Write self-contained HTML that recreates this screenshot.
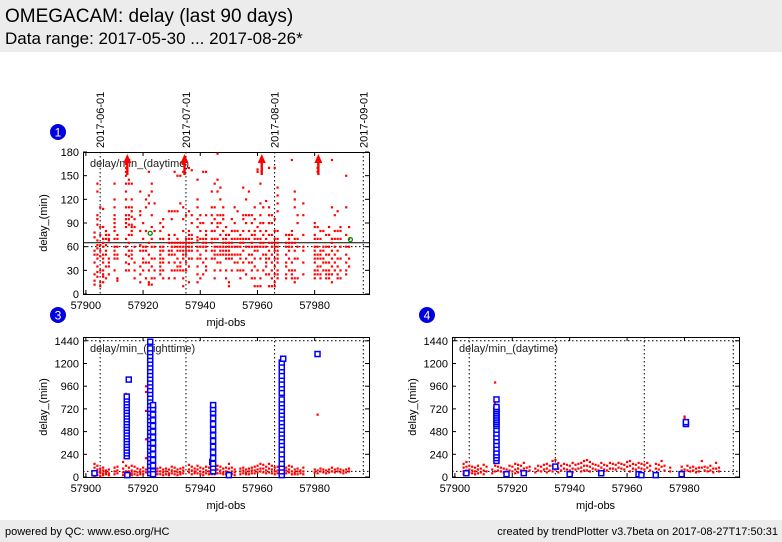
<!DOCTYPE html>
<html><head><meta charset="utf-8">
<style>
body{margin:0;width:782px;height:542px;background:#fff;font-family:"Liberation Sans","DejaVu Sans",sans-serif;overflow:hidden;position:relative}
#hdr{position:absolute;left:0;top:0;width:782px;height:52px;background:#ececec}
#t1{position:absolute;left:5px;top:6px;font-size:19px;color:#000}
#t2{position:absolute;left:5px;top:29px;font-size:17px;color:#000}
#ftr{position:absolute;left:0;top:520px;width:782px;height:22px;background:#ececec;font-size:11px}
#fl{position:absolute;left:5px;top:6px}
#fr{position:absolute;right:4px;top:6px}
svg{position:absolute;left:0;top:0}
</style></head><body>
<div id="hdr">
<div id="t1">OMEGACAM: delay (last 90 days)</div>
<div id="t2">Data range: 2017-05-30 ... 2017-08-26*</div>
</div>
<svg id="chart" width="782" height="542"></svg>
<div id="ftr">
<span id="fl">powered by QC: www.eso.org/HC</span>
<span id="fr">created by trendPlotter v3.7beta on 2017-08-27T17:50:31</span>
</div>
<script>
// ---------- data ----------
const xTicks=[57900,57920,57940,57960,57980];
const monthMjd=[57905,57935,57966,57997];
const monthLabels=["2017-06-01","2017-07-01","2017-08-01","2017-09-01"];
const yTicks1=[0,30,60,90,120,150,180];
const yTicks3=[0,240,480,720,960,1200,1440];
// panel 1 (daytime delay), nights and per-night values
const nights1=[57903,57904,57905,57906,57907,57908,57910,57911,57914,57915,57916,57917,57919,57920,57921,57922,57923,57924,57926,57927,57929,57930,57931,57932,57933,57934,57935,57936,57937,57939,57940,57941,57942,57944,57945,57946,57947,57948,57949,57950,57951,57952,57953,57954,57955,57956,57957,57958,57959,57960,57961,57962,57963,57964,57965,57966,57967,57970,57971,57972,57973,57974,57976,57980,57981,57982,57983,57984,57985,57986,57987,57988,57989,57991,57992];
const vals1=[[78,72,55,50,40,25,17,12],[140,130,100,95,88,68,62,58,50,45,35,28,22],[110,85,75,62,55,48,30,15,10],[108,85,70,65,60,50,45,40,30,25,22,15],[80,75,70,62,55,50,35,20],[75,70,68,45,40,35,25],[140,120,110,100,95,90,85,80,70,60,55,50,45,30],[75,70,60,50,45,20,17],[170,165,160,155,150,140,130,120,110,100,95,90,85,70,60,50,40,30],[145,140,110,100,95,88,75,65,55,48,38,30],[140,120,110,105,98,88,85,80,75,55,50,45],[95,85,60,40,30,20],[130,105,100,80,62,55,35,25,15],[90,70,60,55,45,40,30],[120,110,80,60,55,40,20],[155,125,115,65,50,40,30,15,12],[140,130,100,85,70,60,45,35,20,12],[115,80,60,45,30,20],[90,80,70,60,55,50,45,40,35,30,25],[95,85,70,60,55,45,40,30,20],[105,75,70,65,55,50,40,20],[105,95,65,60,55,50,30],[155,105,75,65,60,50,40,30,20],[150,105,70,65,60,55,45,35,30],[150,115,65,60,55,40,35,30],[165,155,110,95,80,65,60,55,50,45,30,20,10],[100,70,65,60,55,50,40,30],[160,105,80,75,70,65,60,55,45,35,15],[157,100,90,75,70,65,60,55,45],[145,120,110,95,85,72,68,60,55,45,35,25,15],[100,90,80,70,60,50,45,20],[155,90,70,65,60,40,25],[155,100,80,75,70,65,60,55,45,35,30],[130,110,100,90,80,70,65,55,45],[140,110,95,80,70,60,55,50,45,30,20],[178,145,130,100,90,85,70,60,50,40],[135,120,100,90,75,60,55,50,40,30],[110,100,95,80,70,65,60,55,50],[85,75,70,65,60,55,50,45,30,20],[75,65,60,55,50,45,15,10],[95,80,70,65,60,50,45,30],[110,90,80,70,60,50,40],[105,80,70,60,50,40,30],[75,70,65,60,50,45,30,20],[135,100,95,80,70,65,55,40,30],[120,100,90,70,60,45,25],[130,100,80,70,60,50,40],[100,90,75,65,60,50,40,30,20],[110,95,80,75,70,60,55,45,35,20,10],[158,155,85,70,60,55,30,10],[140,115,100,90,80,70,65,60,45,20,10],[110,90,75,65,60,50,30],[118,80,70,60,50,45,40,35,25],[160,110,100,90,75,65,55,45,25,10],[100,90,75,65,60,50,40,30,20,10],[160,95,80,70,65,60,55,45,35,25,15,10],[135,125,115,105,80,70,65,60,55,50,45,40,30,25,20],[75,65,60,50,40,35,25,20],[75,70,65,60,55,45,30],[170,80,75,65,60,40,30,25,20],[130,120,110,70,65,55,45,30,20,15],[100,90,70,60,45,20],[115,100,75,60,55,40,25],[90,85,75,70,60,55,50,45,40,30,25,20],[160,155,85,70,60,50,45,35,30,25],[80,70,55,50,45,35,25,20],[80,60,55,45,40,30],[75,60,50,40,30,25,20],[85,75,60,50,40,30,25,20],[170,110,70,65,55,45,35,25,15],[100,80,70,60,50,40,30],[105,80,70,55,45,35,25,20],[85,80,70,60,45,30,20],[150,110,75,60,50,40,30,25],[85,70,60,45,35]];
const arrows1=[57914.5,57934.5,57961.5,57981.3];
const greenX1=[57922.5,57992.5];
const greenY1=[77,69];
const meanLine1=65, refLine1=60;
// panel 3 (nighttime) red points
const nights3=[57903,57904,57905,57906,57907,57908,57910,57911,57913,57914,57915,57916,57917,57918,57919,57920,57921,57922,57923,57924,57925,57926,57927,57928,57929,57930,57931,57932,57933,57934,57936,57937,57938,57939,57940,57941,57942,57943,57944,57945,57946,57947,57948,57949,57950,57951,57952,57954,57955,57956,57957,57958,57959,57960,57961,57962,57963,57964,57965,57966,57967,57968,57969,57970,57971,57972,57973,57974,57975,57976,57980,57981,57982,57983,57984,57985,57986,57987,57988,57989,57990,57991,57992];
const vals3=[[140,100,60,30,10],[120,80,50,20],[90,60,40,10],[100,70,40,20],[70,50,30],[80,40,20],[100,60,30],[110,70,40],[160,90,50,20],[880,840,200,120,60,30],[100,60,40],[120,70,40,20],[110,60,30],[90,50,20],[80,50,30],[100,60,30],[960,900,700,400,200,80,50],[120,80,40],[840,480,100,60,30],[110,70,40],[90,60,30],[100,60,30],[80,50,20],[90,60,30],[80,40,20],[110,70,40],[100,60,30],[80,50,20],[90,50,30],[100,70,40],[130,80,50],[110,70,30],[90,60,40],[120,80,40],[100,60,30],[90,50,20],[110,70,40],[100,60,30],[130,90,60,30],[140,100,60,30],[120,80,40],[110,70,40],[90,50,30],[100,60,30],[140,90,50,20],[100,60,30],[80,50,20],[90,60,30],[100,70,40],[80,50,30],[90,60,30],[100,70,40],[110,70,40],[120,80,50],[140,90,60],[130,90,50],[110,70,40],[140,90,50],[120,80,40],[100,60,30],[110,70,40],[90,60,30],[130,80,50],[100,70,40],[120,80,50],[110,60,30],[80,50,30],[90,60,30],[70,40],[100,60,30],[80,50],[660,70,40],[90,60],[80,50],[70,40],[80,50],[100,60],[80,50],[90,60],[80,50],[70,40],[80,50],[90,60]];
// panel 3 blue squares
const blue3X=[57903,57914.3,57914.3,57914.3,57914.3,57914.3,57914.3,57914.3,57914.3,57914.3,57914.3,57914.3,57914.3,57914.3,57914.3,57914.3,57914.3,57914.3,57914.3,57914.3,57914.3,57914.3,57914.3,57915,57914.5,57922.5,57922.5,57922.5,57922.5,57922.5,57922.5,57922.5,57922.5,57922.5,57922.5,57922.5,57922.5,57922.5,57922.5,57922.5,57922.5,57922.5,57922.5,57922.5,57922.5,57922.5,57922.5,57922.5,57922.5,57922.5,57922.5,57922.5,57922.5,57922.5,57922.5,57922.5,57922.5,57922.5,57922.5,57922.5,57923.5,57923.5,57923.5,57923.5,57923.5,57923.5,57923.5,57923.5,57923.5,57923.5,57923.5,57923.5,57923.5,57923.5,57944.2,57944.5,57944.5,57944.5,57944.5,57944.5,57944.5,57944.5,57944.5,57944.5,57944.5,57944.5,57944.5,57944.5,57944.5,57950,57968.5,57968.5,57968.5,57968.5,57968.5,57968.5,57968.5,57968.5,57968.5,57968.5,57968.5,57968.5,57968.5,57968.5,57968.5,57968.5,57968.5,57968.5,57968.5,57968.5,57968.5,57968.5,57968.5,57968.5,57968.5,57968.5,57968.5,57968.5,57969,57981];
const blue3Y=[40,220,250,280,310,340,370,400,430,460,490,520,550,580,610,640,670,700,730,760,790,820,850,1030,20,40,80,120,160,200,240,280,320,360,400,440,480,520,560,600,640,680,720,760,800,840,880,920,960,1000,1040,1080,1120,1160,1200,1240,1280,1320,1360,1430,60,120,180,240,300,360,420,480,540,600,660,720,760,30,160,60,100,140,200,260,320,380,440,500,560,620,680,720,760,20,20,60,100,140,190,240,290,340,380,420,460,500,540,580,620,660,700,740,780,820,890,940,980,1030,1070,1120,1160,1210,1250,1300,1390,580];
// panel 4 (daytime) red points
const nights4=[57903,57904,57905,57906,57907,57908,57909,57910,57911,57913,57914,57915,57916,57917,57918,57919,57920,57921,57922,57923,57924,57925,57926,57928,57929,57930,57931,57932,57933,57934,57935,57936,57937,57938,57939,57940,57941,57942,57943,57944,57945,57946,57947,57948,57949,57950,57951,57952,57953,57954,57955,57956,57957,57958,57959,57960,57961,57962,57963,57964,57965,57966,57967,57968,57970,57971,57972,57973,57975,57979,57980,57981,57982,57983,57984,57985,57986,57987,57988,57989,57990,57991,57992];
const vals4=[[140,100,60,30],[160,110,70,30],[120,80,50],[110,70,40],[100,60,30],[120,80,40],[90,50],[130,70,30],[110,60],[80,40],[1000,780,120,60],[110,70],[100,60],[90,50],[80,40],[120,70],[110,60],[140,80,40],[130,90,50],[120,70],[150,90,50],[100,60],[110,70],[90,50],[120,70],[110,60],[130,80],[140,90,50],[120,70],[170,120,60],[180,130,80],[150,90,50],[120,70],[140,90],[130,80],[120,70],[150,90,50],[130,80],[140,90],[150,100,60],[170,120,70],[180,120,70],[160,110,60],[140,90],[130,80],[120,70],[150,100],[130,80],[120,70],[150,90],[140,90],[130,80],[150,100],[140,90],[130,80],[160,110],[170,120,60],[140,90],[130,80],[150,100],[140,90],[130,80],[150,100],[120,70],[140,90],[130,80],[170,110],[120,70],[100,60],[110,70],[640,620,80],[120,70],[100,60],[110,70],[90,50],[100,60],[170,100],[110,70],[100,60],[120,70],[90,50],[150,90],[100,60]];
const blue4X=[57904,57914.5,57914.5,57914.5,57914.5,57914.5,57914.5,57914.5,57914.5,57914.5,57914.5,57914.5,57914.5,57914.5,57914.5,57914.5,57914.5,57914.5,57914.5,57914.5,57914.5,57914.5,57914.5,57918,57924,57935,57940,57951,57964,57965,57970,57979,57980.5,57980.5];
const blue4Y=[40,170,200,230,260,300,340,380,420,460,500,540,560,580,600,620,640,660,680,700,720,740,820,30,40,110,30,40,30,20,20,30,560,580];

// ---------- drawing ----------
const NS="http://www.w3.org/2000/svg";
const svg=document.getElementById('chart');
function el(tag,attrs,parent){const e=document.createElementNS(NS,tag);for(const k in attrs)e.setAttribute(k,attrs[k]);(parent||svg).appendChild(e);return e;}
const X0=57899,X1=57999;

function panel(name,L,T,W,H,ymax,yTicks,label,yLineDotted){
  const g=el('g',{});
  
  
  const sx=v=>L+(v-X0)/(X1-X0)*W;
  const sy=v=>T+H-v/ymax*H;
  // month lines
  monthMjd.forEach(m=>{if(m<X1){const l=el('line',{x1:sx(m),x2:sx(m),y1:T,y2:T+H,stroke:'#000','stroke-dasharray':'1.5,2.5','stroke-width':1},g);
    
    }});
  yLineDotted.forEach(v=>{const l=el('line',{x1:L,x2:L+W,y1:sy(v),y2:sy(v),stroke:'#000','stroke-dasharray':'1.5,2.5','stroke-width':1},g);
    
    });
  // axes box
  const b=el('rect',{x:L+0.5,y:T+0.5,width:W,height:H,fill:'none',stroke:'#000','stroke-width':1},g);
  
  
  xTicks.forEach(v=>{const x=sx(v);
    el('line',{x1:x,x2:x,y1:T+H,y2:T+H-4,stroke:'#000'},g);
    el('line',{x1:x,x2:x,y1:T,y2:T+4,stroke:'#000'},g);
    const t=el('text',{x:x,y:T+H+15,'font-size':11,'text-anchor':'middle',fill:'#000'},g);t.textContent=v;
    
    });
  yTicks.forEach(v=>{const y=sy(v);
    el('line',{x1:L,x2:L+4,y1:y,y2:y,stroke:'#000'},g);
    el('line',{x1:L+W,x2:L+W-4,y1:y,y2:y,stroke:'#000'},g);
    const t=el('text',{x:L-4,y:y+4,'font-size':11,'text-anchor':'end',fill:'#000'},g);t.textContent=v;
    
    });
  const lab=el('text',{x:L+7,y:T+15,'font-size':11,fill:'#222'},g);lab.textContent=label;
  
  
  const xt=el('text',{x:L+W/2,y:T+H+32,'font-size':11,'text-anchor':'middle',fill:'#000'},g);xt.textContent='mjd-obs';
  
  
  const yt=el('text',{x:0,y:0,'font-size':11,'text-anchor':'middle',fill:'#000',transform:`translate(${L-36},${T+H/2}) rotate(-90)`},g);yt.textContent='delay_(min)';
  
  
  return {g,sx,sy};
}
function reds(p,nights,vals){
  nights.forEach((n,i)=>vals[i].forEach(v=>{
    const r=el('rect',{x:p.sx(n)-1,y:p.sy(v)-1,width:2.2,height:2.2,fill:'#f00'},p.g);
    
    
  }));
}
function blues(p,xs,ys){
  xs.forEach((x,i)=>{
    const r=el('rect',{x:p.sx(x)-2.5,y:p.sy(ys[i])-2.5,width:5,height:5,fill:'#fff',stroke:'#00f','stroke-width':1.5},p.g);
    
    
  });
}
function badge(x,y,n){
  const c=el('circle',{cx:x,cy:y,r:8,fill:'#0000e0'});
  
  
  const t=el('text',{x:x,y:y+4.5,'font-size':12,'text-anchor':'middle',fill:'#fff'});t.textContent=n;
  
  
}

// panel 1
const p1=panel('panel-1-daytime',83,152,286,142,180,yTicks1,'delay/min_(daytime)',[refLine1]);
const ml=el('line',{x1:83,x2:369,y1:p1.sy(meanLine1),y2:p1.sy(meanLine1),stroke:'#000','stroke-width':1},p1.g);


reds(p1,nights1,vals1);
arrows1.forEach(a=>{const x=p1.sx(a);
  const ar=el('path',{d:`M${x} 154 L${x-4} 163 L${x-1.2} 163 L${x-1.2} 175 L${x+1.2} 175 L${x+1.2} 163 L${x+4} 163 Z`,fill:'#f00'},p1.g);
  
  });
greenX1.forEach((x,i)=>{const c=el('circle',{cx:p1.sx(x),cy:p1.sy(greenY1[i]),r:2,fill:'none',stroke:'#080','stroke-width':1.3},p1.g);
  
  });
monthMjd.forEach((m,i)=>{const x=p1.sx(m)+4;
  const t=el('text',{x:0,y:0,'font-size':11,fill:'#000',transform:`translate(${x},148) rotate(-90)`});t.textContent=monthLabels[i];
  
  });

// panel 3
const p3=panel('panel-3-nighttime',83,337,286,140,1480,yTicks3,'delay/min_(nighttime)',[1440,60]);
reds(p3,nights3,vals3);
blues(p3,blue3X,blue3Y);
// panel 4
const p4=panel('panel-4-daytime',452,337,287,140,1480,yTicks3,'delay/min_(daytime)',[1440,60]);
reds(p4,nights4,vals4);
blues(p4,blue4X,blue4Y);

badge(58,132,1);badge(58,315,3);badge(427,315,4);
</script>
</body></html>
